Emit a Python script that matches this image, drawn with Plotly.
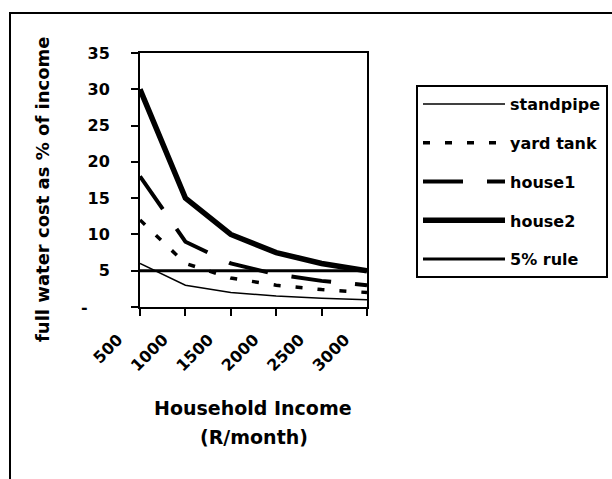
import plotly.graph_objects as go

income = [500, 1000, 1500, 2000, 2500, 3000]
standpipe = [6, 3, 2, 1.5, 1.2, 1]
yard_tank = [12, 6, 4, 3, 2.4, 2]
house1 = [18, 9, 6, 4.5, 3.6, 3]
house2 = [30, 15, 10, 7.5, 6, 5]
rule5 = [5, 5, 5, 5, 5, 5]

y_ticks = [0, 5, 10, 15, 20, 25, 30, 35]
y_ticktext = ["-" + "\u00a0" * 4, "5", "10", "15", "20", "25", "30", "35"]
x_ticktext = ["500", "1000", "1500", "2000", "2500", "3000"]

FONT = "DejaVu Sans"

series = [
    ("standpipe", standpipe, dict(color="black", width=1.5)),
    ("yard tank", yard_tank, dict(color="black", width=3.5, dash="7px,15px")),
    ("house1", house1, dict(color="black", width=4, dash="40px,24px")),
    ("house2", house2, dict(color="black", width=5.5)),
    ("5% rule", rule5, dict(color="black", width=3)),
]

fig = go.Figure()
for i, (name, vals, line) in enumerate(series):
    fig.add_trace(go.Scatter(x=income, y=vals, mode="lines", name=name,
                             line=line, legendgroup=f"g{i}"))

L, R, T, B = 140, 245, 53, 172
W, H = 612, 479
pw = W - L - R
ph = H - T - B


def px(x):
    return (x - L) / pw


def py(y):
    return (H - B - y) / ph


fig.update_layout(
    width=W, height=H,
    margin=dict(l=L, r=R, t=T, b=B, pad=0, autoexpand=False),
    paper_bgcolor="white", plot_bgcolor="white",
    font=dict(family=FONT, color="black"),
    showlegend=True,
    legend=dict(
        x=px(416), y=py(85), xanchor="left", yanchor="top",
        bordercolor="black", borderwidth=2, bgcolor="white",
        font=dict(family=FONT, size=16, color="black", weight="bold"),
        itemwidth=82, tracegroupgap=15, traceorder="grouped",
    ),
    xaxis=dict(
        range=[500, 3000], tickvals=income, ticktext=x_ticktext,
        tickangle=-45, tickfont=dict(family=FONT, size=16, color="black", weight="bold"),
        showline=True, linecolor="black", linewidth=2, mirror=True,
        ticks="outside", ticklen=7, tickwidth=2, tickcolor="black",
        showgrid=False, zeroline=False, automargin=False,
        ticklabelstandoff=8, ticklabelshift=-22,
    ),
    yaxis=dict(
        range=[0, 35], tickvals=y_ticks, ticktext=y_ticktext,
        tickfont=dict(family=FONT, size=16, color="black", weight="bold"),
        showline=True, linecolor="black", linewidth=2, mirror=True,
        ticks="outside", ticklen=7, tickwidth=2, tickcolor="black",
        showgrid=False, zeroline=False, automargin=False, ticklabelstandoff=18,
    ),
    annotations=[
        dict(text="full water cost as % of income", textangle=-90,
             xref="paper", yref="paper", x=px(43), y=py(190),
             xanchor="center", yanchor="middle",
             showarrow=False, font=dict(family=FONT, size=18, weight="bold")),
        dict(text="Household Income",
             xref="paper", yref="paper", x=px(253), y=py(408),
             xanchor="center", yanchor="middle",
             showarrow=False, font=dict(family=FONT, size=19, weight="bold")),
        dict(text="(R/month)",
             xref="paper", yref="paper", x=px(254), y=py(437),
             xanchor="center", yanchor="middle",
             showarrow=False, font=dict(family=FONT, size=19, weight="bold")),
    ],
    shapes=[
        dict(type="rect", xref="paper", yref="paper",
             x0=px(10), x1=px(620), y0=py(490), y1=py(13),
             line=dict(color="black", width=2)),
    ],
)

fig.write_html("out.html")
